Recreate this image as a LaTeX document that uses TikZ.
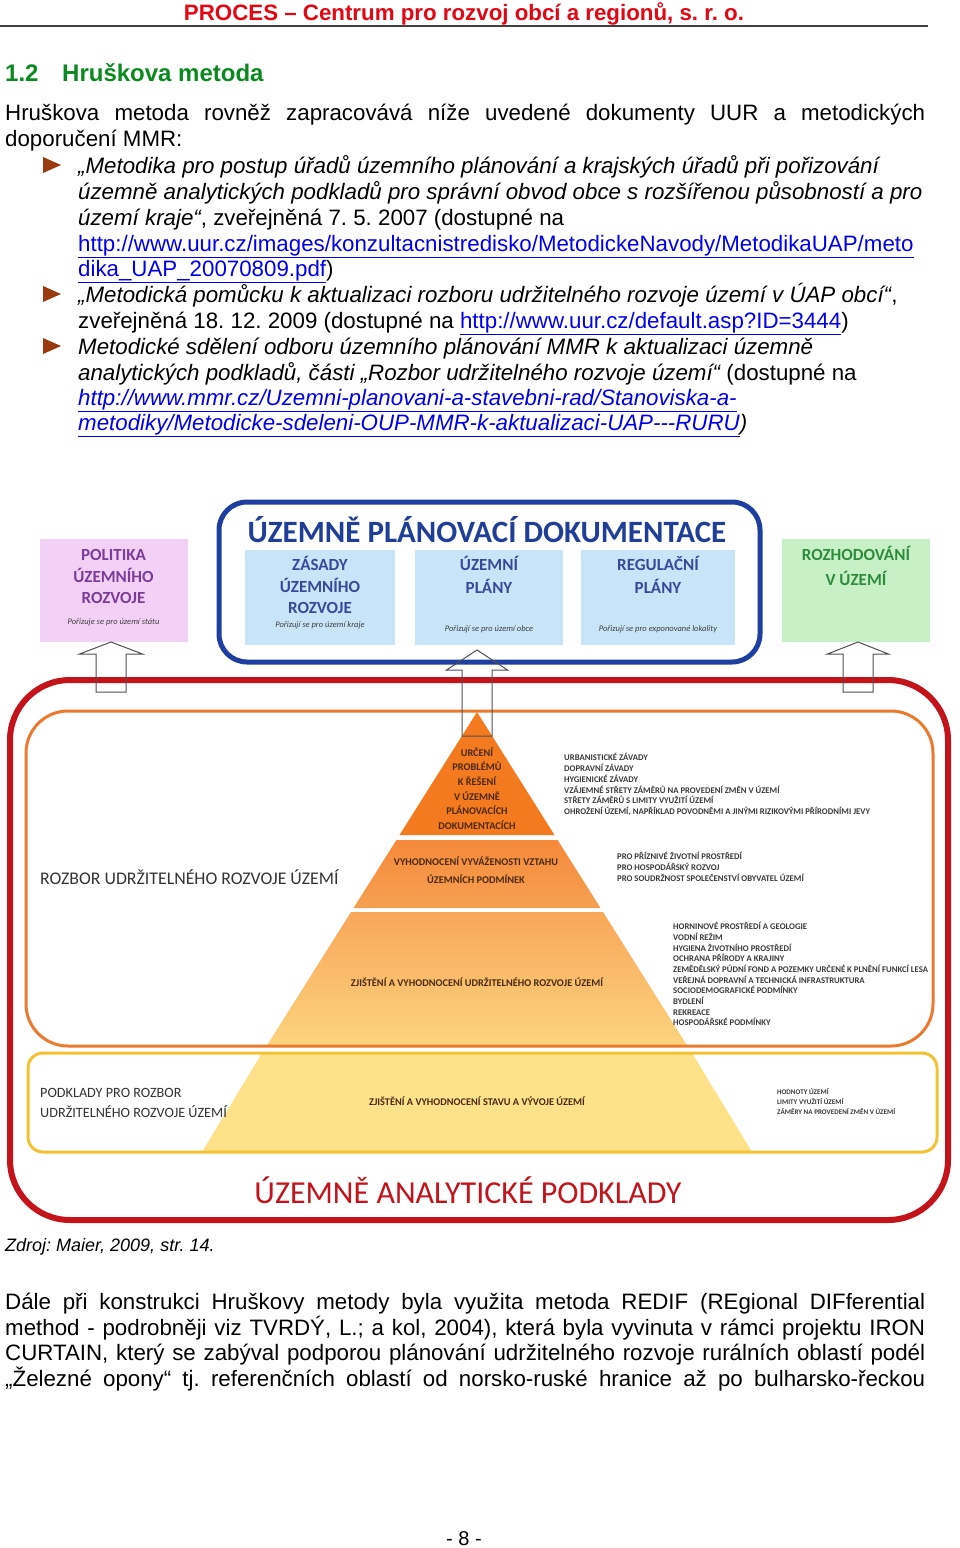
\documentclass[tikz,border=0pt]{standalone}
\usepackage{fontspec}
\setmainfont{Liberation Sans}
\newfontfamily\calfont{Carlito}
\frenchspacing
\definecolor{hdrred}{HTML}{E30613}
\definecolor{hdgreen}{HTML}{0A8A1E}
\definecolor{linkblue}{HTML}{0000EE}
\definecolor{bulletc}{HTML}{9A3A10}
\definecolor{uupblue}{HTML}{1E3FA0}
\definecolor{titleblue}{HTML}{203E98}
\definecolor{boxblue}{HTML}{C7E4F8}
\definecolor{boxtext}{HTML}{3A489C}
\definecolor{pinkfill}{HTML}{F3D1F6}
\definecolor{pinktext}{HTML}{7B3C9C}
\definecolor{greenfill}{HTML}{C8F0C6}
\definecolor{greentext}{HTML}{2E8B3C}
\definecolor{uapred}{HTML}{C3131B}
\definecolor{orangeln}{HTML}{EC7A2E}
\definecolor{yellowln}{HTML}{F3C232}
\definecolor{bandone}{HTML}{F47A20}
\definecolor{bandtwot}{HTML}{F58A3A}
\definecolor{bandtwob}{HTML}{F6A052}
\definecolor{bandthreet}{HTML}{F8A75A}
\definecolor{bandthreeb}{HTML}{FCD47E}
\definecolor{bandfour}{HTML}{FDE28A}
\definecolor{pyrtext}{HTML}{4A2A12}
\definecolor{listtext}{HTML}{3A3A3A}
\definecolor{arrowgray}{HTML}{505050}
\definecolor{labelgray}{HTML}{333333}
\newcommand\lnk[1]{\textcolor{linkblue}{\underline{#1}}}
\begin{document}
\begin{tikzpicture}[x=1pt,y=-1pt,
  body/.style={anchor=base west, inner sep=0pt, font=\fontsize{22.3}{26}\selectfont},
  dlab/.style={anchor=base, inner sep=0pt, font=\calfont\bfseries\fontsize{17}{17}\selectfont},
  smalli/.style={anchor=base, inner sep=0pt, font=\calfont\itshape\fontsize{8.5}{9}\selectfont, text=black!75},
  pyr/.style={anchor=base, inner sep=0pt, font=\calfont\bfseries\fontsize{10.3}{11}\selectfont, text=pyrtext},
  lst/.style={anchor=base west, inner sep=0pt, font=\calfont\bfseries\fontsize{8.7}{9}\selectfont, text=listtext},
  arr/.style={draw=arrowgray, line width=1pt, line join=miter},
  bullet/.style={fill=bulletc}]
\useasboundingbox (0,0) rectangle (960,1548);
\fill[white] (0,0) rectangle (960,1548);

% header
\node[anchor=base, inner sep=0pt, font=\bfseries\fontsize{22.3}{24}\selectfont, text=hdrred] (hdr) at (464,20) {PROCES – Centrum pro rozvoj obcí a regionů, s. r. o.};
\draw[black!75, line width=1.5pt] (0,26) -- (928,26);
\node[anchor=base west, inner sep=0pt, font=\bfseries\fontsize{24}{26}\selectfont, text=hdgreen] (secn) at (5,81) {1.2};
\node[anchor=base west, inner sep=0pt, font=\bfseries\fontsize{24}{26}\selectfont, text=hdgreen] (sect) at (62,81) {Hruškova metoda};

% intro paragraph
\node[body] (p1) at (5,120) {\hbox to 920pt{Hruškova metoda rovněž zapracovává níže uvedené dokumenty UUR a metodických}};
\node[body] (p2) at (5,146) {doporučení MMR:};

% bullets
\fill[bullet] (43,157) -- (43,173) -- (61,165) -- cycle;
\fill[bullet] (43,286) -- (43,302) -- (61,294) -- cycle;
\fill[bullet] (43,338) -- (43,354) -- (61,346) -- cycle;

\node[body] (b1a) at (78,173) {\itshape „Metodika pro postup úřadů územního plánování a krajských úřadů při pořizování};
\node[body] (b1b) at (78,199) {\itshape územně analytických podkladů pro správní obvod obce s rozšířenou působností a pro};
\node[body] (b1c) at (78,225) {{\itshape území kraje“}, zveřejněná 7. 5. 2007 (dostupné na};
\node[body] (b1d) at (78,251) {\lnk{http://www.uur.cz/images/konzultacnistredisko/MetodickeNavody/MetodikaUAP/meto}};
\node[body] (b1e) at (78,276) {\lnk{dika\_UAP\_20070809.pdf})};
\node[body] (b2a) at (78,302) {{\itshape „Metodická pomůcku k aktualizaci rozboru udržitelného rozvoje území v ÚAP obcí“},};
\node[body] (b2b) at (78,328) {zveřejněná 18. 12. 2009 (dostupné na \lnk{http://www.uur.cz/default.asp?ID=3444})};
\node[body] (b3a) at (78,354) {\itshape Metodické sdělení odboru územního plánování MMR k aktualizaci územně};
\node[body] (b3b) at (78,380) {{\itshape analytických podkladů, části „Rozbor udržitelného rozvoje území“} (dostupné na};
\node[body] (b3c) at (78,405) {\itshape\lnk{http://www.mmr.cz/Uzemni-planovani-a-stavebni-rad/Stanoviska-a-}};
\node[body] (b3d) at (78,430) {\itshape\lnk{metodiky/Metodicke-sdeleni-OUP-MMR-k-aktualizaci-UAP-{}-{}-RURU})};

% ===== diagram =====
% upper boxes
\fill[pinkfill] (40,539) rectangle (188,642);
\fill[greenfill] (782,539) rectangle (930,642);
\fill[boxblue] (245,550) rectangle (395,645);
\fill[boxblue] (415,550) rectangle (563,645);
\fill[boxblue] (581,550) rectangle (735,645);
\draw[uupblue, line width=5pt, rounded corners=28pt] (219,502) rectangle (760,662);

% pyramid
\fill[bandone] (477,712) -- (554.5,835) -- (399.5,835) -- cycle;
\shade[top color=bandtwot, bottom color=bandtwob] (396.4,840) -- (557.6,840) -- (600.5,908) -- (353.5,908) -- cycle;
\shade[top color=bandthreet, bottom color=bandthreeb] (351,912) -- (603,912) -- (687.4,1046) -- (266.6,1046) -- cycle;
\fill[bandfour] (262,1053) -- (692,1053) -- (752,1152) -- (202,1152) -- cycle;

% frames
\draw[uapred, line width=6pt, rounded corners=60pt] (10,680) rectangle (948,1220);
\draw[orangeln, line width=3pt, rounded corners=42pt] (26,711) rectangle (933,1046);
\draw[yellowln, line width=3pt, rounded corners=15pt] (28,1053) rectangle (937,1152);

% hollow arrows
\draw[arr] (111,642) -- (142.5,654) -- (126,654) -- (126,692) -- (96,692) -- (96,654) -- (79.5,654) -- cycle;
\draw[arr] (477,650) -- (507.5,670) -- (492,670) -- (492,736) -- (462,736) -- (462,670) -- (446.5,670) -- cycle;
\draw[arr] (858,642) -- (888.5,654) -- (873,654) -- (873,692) -- (843,692) -- (843,654) -- (827.5,654) -- cycle;

% labels: top
\node[anchor=base, inner sep=0pt, font=\calfont\bfseries\fontsize{31}{31}\selectfont, text=titleblue] (upd) at (487,542) {ÚZEMNĚ PLÁNOVACÍ DOKUMENTACE};

\node[dlab, text=pinktext] (pol1) at (113.5,560) {POLITIKA};
\node[dlab, text=pinktext] (pol2) at (113.5,582) {ÚZEMNÍHO};
\node[dlab, text=pinktext] (pol3) at (113.5,603.5) {ROZVOJE};
\node[smalli] (pol4) at (113.5,624) {Pořizuje se pro území státu};

\node[dlab, text=boxtext] (zur1) at (320,570) {ZÁSADY};
\node[dlab, text=boxtext] (zur2) at (320,592) {ÚZEMNÍHO};
\node[dlab, text=boxtext] (zur3) at (320,613) {ROZVOJE};
\node[smalli] (zur4) at (320,627) {Pořizují se pro území kraje};

\node[dlab, text=boxtext] (up1) at (489,570) {ÚZEMNÍ};
\node[dlab, text=boxtext] (up2) at (489,593) {PLÁNY};
\node[smalli] (up3) at (489,631) {Pořizují se pro území obce};

\node[dlab, text=boxtext] (rp1) at (658,570) {REGULAČNÍ};
\node[dlab, text=boxtext] (rp2) at (658,593) {PLÁNY};
\node[smalli] (rp3) at (658,631) {Pořizují se pro exponované lokality};

\node[dlab, text=greentext] (roz1) at (856,560) {ROZHODOVÁNÍ};
\node[dlab, text=greentext] (roz2) at (856,585) {V ÚZEMÍ};

% pyramid labels
\foreach \t [count=\i from 0] in {URČENÍ, PROBLÉMŮ, K ŘEŠENÍ, V ÚZEMNĚ, PLÁNOVACÍCH, DOKUMENTACÍCH}
  \node[pyr] (pa\i) at (477,756.3+14.6*\i) {\t};
\node[pyr] (pb1) at (476,865.3) {VYHODNOCENÍ VYVÁŽENOSTI VZTAHU};
\node[pyr] (pb2) at (476,883.3) {ÚZEMNÍCH PODMÍNEK};
\node[pyr] (pc1) at (477,986.3) {ZJIŠTĚNÍ A VYHODNOCENÍ UDRŽITELNÉHO ROZVOJE ÚZEMÍ};
\node[pyr] (pd1) at (477,1105.3) {ZJIŠTĚNÍ A VYHODNOCENÍ STAVU A VÝVOJE ÚZEMÍ};

% side labels
\node[anchor=base west, inner sep=0pt, font=\calfont\fontsize{17.8}{18}\selectfont, text=labelgray] (rur) at (40,884) {ROZBOR UDRŽITELNÉHO ROZVOJE ÚZEMÍ};
\node[anchor=base west, inner sep=0pt, font=\calfont\fontsize{14.2}{15}\selectfont, text=labelgray] (pod1) at (40,1097.5) {PODKLADY PRO ROZBOR};
\node[anchor=base west, inner sep=0pt, font=\calfont\fontsize{14.2}{15}\selectfont, text=labelgray] (pod2) at (40,1117.5) {UDRŽITELNÉHO ROZVOJE ÚZEMÍ};
\node[anchor=base, inner sep=0pt, font=\calfont\fontsize{32}{33}\selectfont, text=uapred] (uap) at (468,1203) {ÚZEMNĚ ANALYTICKÉ PODKLADY};

% lists
\foreach \t [count=\i from 0] in {URBANISTICKÉ ZÁVADY, DOPRAVNÍ ZÁVADY, HYGIENICKÉ ZÁVADY, VZÁJEMNÉ STŘETY ZÁMĚRŮ NA PROVEDENÍ ZMĚN V ÚZEMÍ, STŘETY ZÁMĚRŮ S LIMITY VYUŽITÍ ÚZEMÍ, {OHROŽENÍ ÚZEMÍ, NAPŘÍKLAD POVODNĚMI A JINÝMI RIZIKOVÝMI PŘÍRODNÍMI JEVY}}
  \node[lst] (la\i) at (564,760.7+10.8*\i) {\t};
\foreach \t [count=\i from 0] in {PRO PŘÍZNIVÉ ŽIVOTNÍ PROSTŘEDÍ, PRO HOSPODÁŘSKÝ ROZVOJ, PRO SOUDRŽNOST SPOLEČENSTVÍ OBYVATEL ÚZEMÍ}
  \node[lst] (lb\i) at (617,859.7+11*\i) {\t};
\foreach \t [count=\i from 0] in {HORNINOVÉ PROSTŘEDÍ A GEOLOGIE, VODNÍ REŽIM, HYGIENA ŽIVOTNÍHO PROSTŘEDÍ, OCHRANA PŘÍRODY A KRAJINY, ZEMĚDĚLSKÝ PŮDNÍ FOND A POZEMKY URČENÉ K PLNĚNÍ FUNKCÍ LESA, VEŘEJNÁ DOPRAVNÍ A TECHNICKÁ INFRASTRUKTURA, SOCIODEMOGRAFICKÉ PODMÍNKY, BYDLENÍ, REKREACE, HOSPODÁŘSKÉ PODMÍNKY}
  \node[lst] (lc\i) at (673,929.7+10.67*\i) {\t};
\foreach \t [count=\i from 0] in {HODNOTY ÚZEMÍ, LIMITY VYUŽITÍ ÚZEMÍ, ZÁMĚRY NA PROVEDENÍ ZMĚN V ÚZEMÍ}
  \node[lst, font=\calfont\bfseries\fontsize{7.1}{8}\selectfont] (ld\i) at (777,1094.5+10*\i) {\t};

% source and closing paragraph
\node[anchor=base west, inner sep=0pt, font=\itshape\fontsize{18}{20}\selectfont] (src) at (5,1251) {Zdroj: Maier, 2009, str. 14.};
\node[body] (q1) at (5,1309) {\hbox to 920pt{Dále při konstrukci Hruškovy metody byla využita metoda REDIF (REgional DIFferential}};
\node[body] (q2) at (5,1335) {\hbox to 920pt{method - podrobněji viz TVRDÝ, L.; a kol, 2004), která byla vyvinuta v rámci projektu IRON}};
\node[body] (q3) at (5,1360) {\hbox to 920pt{CURTAIN, který se zabýval podporou plánování udržitelného rozvoje rurálních oblastí podél}};
\node[body] (q4) at (5,1386) {\hbox to 920pt{„Železné opony“ tj. referenčních oblastí od norsko-ruské hranice až po bulharsko-řeckou}};
\node[anchor=base, inner sep=0pt, font=\fontsize{20}{22}\selectfont] (pg) at (464,1545) {- 8 -};
\end{tikzpicture}
\end{document}
